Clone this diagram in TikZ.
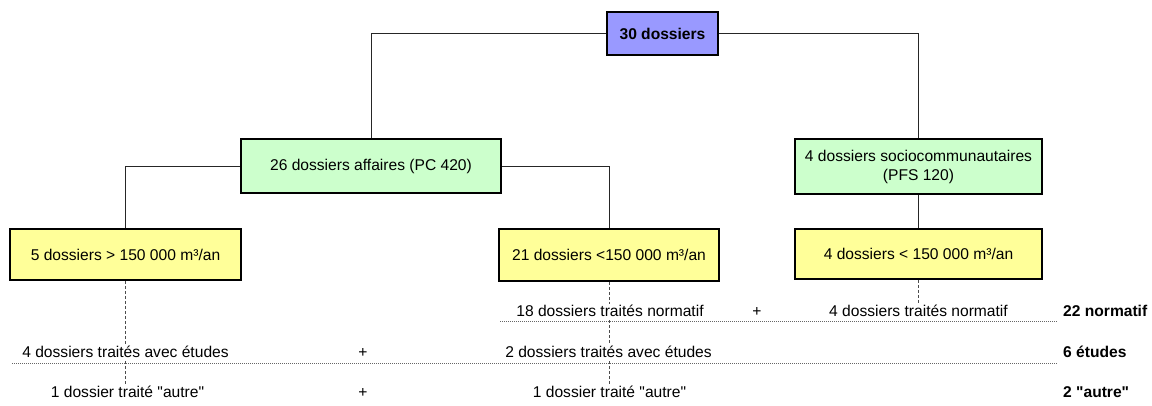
\documentclass[tikz,border=0pt]{standalone}
\usepackage{fontspec}
\setmainfont{Liberation Sans}[Ligatures=TeXOff]
\definecolor{cblue}{HTML}{9999FF}
\definecolor{cgreen}{HTML}{CCFFCC}
\definecolor{cyellow}{HTML}{FFFF99}
\begin{document}
\begin{tikzpicture}[x=1pt,y=-1pt,
  font=\fontsize{15.6}{18}\selectfont,
  box/.style={draw=black,line width=1.8pt,align=center,inner sep=0pt},
  conn/.style={line width=0.8pt,draw=black!85},
  vdash/.style={line width=0.9pt,draw=black!70,dash pattern=on 3pt off 2pt},
  hdot/.style={line width=0.8pt,draw=black!60,dash pattern=on 1pt off 1pt},
  lbl/.style={fill=white,inner sep=1pt,text height=11.5pt,text depth=3pt},
  sum/.style={anchor=west,inner sep=0pt,font=\fontsize{15.6}{18}\selectfont\bfseries,text height=11.5pt,text depth=3pt}]
\fill[white] (0,0) rectangle (1152,405);
\useasboundingbox (0,0) rectangle (1152,405);

\node[box,fill=cblue,minimum width=111pt,minimum height=43pt,font=\fontsize{15.6}{18}\selectfont\bfseries] (top) at (662.5,33.5) {30 dossiers};
\node[box,fill=cgreen,minimum width=260pt,minimum height=54pt] (aff) at (371,166) {26 dossiers affaires (PC 420)};
\node[box,fill=cgreen,minimum width=247pt,minimum height=55pt] (soc) at (918.5,166.5) {4 dossiers sociocommunautaires\\[1pt](PFS 120)};
\node[box,fill=cyellow,minimum width=231pt,minimum height=51pt] (b5) at (125.5,254.5) {5 dossiers > 150 000 m³/an};
\node[box,fill=cyellow,minimum width=220pt,minimum height=52pt] (b21) at (609,255) {21 dossiers <150 000 m³/an};
\node[box,fill=cyellow,minimum width=247pt,minimum height=50pt] (b4) at (918.5,254) {4 dossiers < 150 000 m³/an};

\draw[conn] (top.west) -| (aff.north);
\draw[conn] (top.east) -| (soc.north);
\draw[conn] (aff.west) -| (b5.north);
\draw[conn] (aff.east) -| (b21.north);
\draw[conn] (soc.south) -- (b4.north);

% dotted horizontal lines
\coordinate (h1a) at (500,321);
\coordinate (h1b) at (1058,321);
\coordinate (h2a) at (12,363);
\coordinate (h2b) at (1058,363);
\draw[hdot] (h1a) -- (h1b);
\draw[hdot] (h2a) -- (h2b);

% labels
\node[lbl] (t18) at (610,312) {18 dossiers traités normatif};
\node[lbl] (p1) at (757,312) {+};
\node[lbl] (t4n) at (918.5,312) {4 dossiers traités normatif};
\node[sum] (s22) at (1063,312) {22 normatif};

\node[lbl] (t4e) at (125.5,353) {4 dossiers traités avec études};
\node[lbl] (p2) at (363,353) {+};
\node[lbl] (t2e) at (608.5,353) {2 dossiers traités avec études};
\node[sum] (s6) at (1063,353) {6 études};

\node[lbl] (t1l) at (127.5,393) {1 dossier traité "autre"};
\node[lbl] (p3) at (363,393) {+};
\node[lbl] (t1r) at (609.5,393) {1 dossier traité "autre"};
\node[sum] (s2) at (1063,393) {2 "autre"};

% dashed verticals
\draw[vdash] (b5.south) -- (b5.south |- t4e.north);
\draw[vdash] (t4e.south -| b5.south) -- (b5.south |- t1l.north);
\draw[vdash] (b21.south) -- (b21.south |- t18.north);
\draw[vdash] (b21.south |- t18.south) -- (b21.south |- t2e.north);
\draw[vdash] (b21.south |- t2e.south) -- (b21.south |- t1r.north);
\draw[vdash] (b4.south) -- (b4.south |- t4n.north);
\end{tikzpicture}
\end{document}
